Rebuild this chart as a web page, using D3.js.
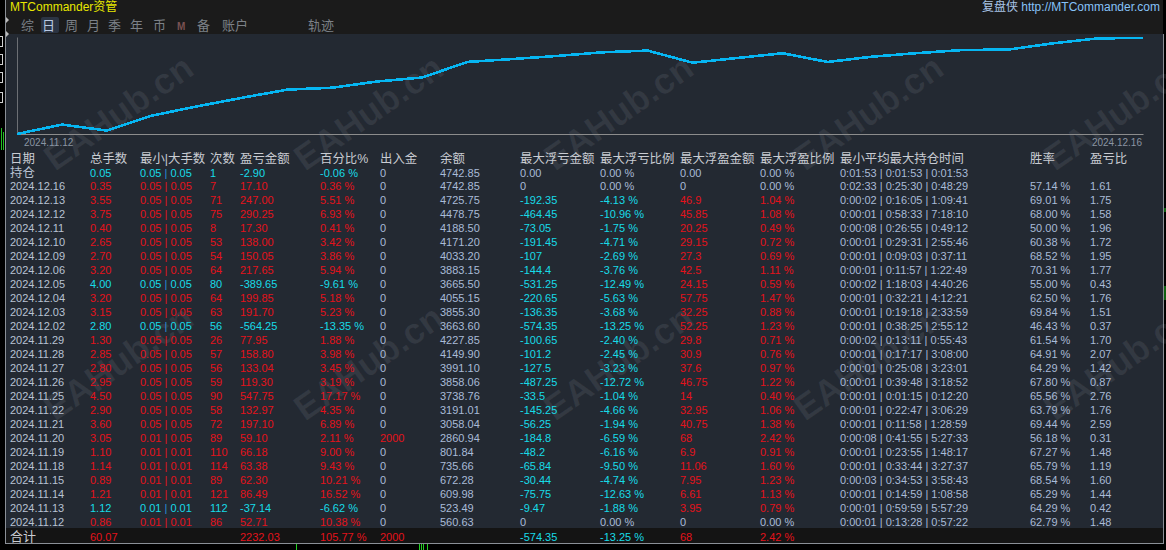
<!DOCTYPE html>
<html>
<head>
<meta charset="utf-8">
<script src="https://cdn.jsdelivr.net/npm/d3@7"></script>
<style>
  html, body { margin: 0; padding: 0; background: #000; }
  svg { display: block; font-family: "Liberation Sans", Arial, "Noto Sans CJK SC", sans-serif; }
</style>
</head>
<body>
<div id="chart"></div>
<script>
// 每日数据（从上到下，倒序）
const dates = ['2024.12.16','2024.12.13','2024.12.12','2024.12.11','2024.12.10','2024.12.09','2024.12.06','2024.12.05','2024.12.04','2024.12.03','2024.12.02','2024.11.29','2024.11.28','2024.11.27','2024.11.26','2024.11.25','2024.11.22','2024.11.21','2024.11.20','2024.11.19','2024.11.18','2024.11.15','2024.11.14','2024.11.13','2024.11.12'];
const totalLots = ['0.35','3.55','3.75','0.40','2.65','2.70','3.20','4.00','3.20','3.15','2.80','1.30','2.85','2.80','2.95','4.50','2.90','3.60','3.05','1.10','1.14','0.89','1.21','1.12','0.86'];
const minLots = ['0.05','0.05','0.05','0.05','0.05','0.05','0.05','0.05','0.05','0.05','0.05','0.05','0.05','0.05','0.05','0.05','0.05','0.05','0.01','0.01','0.01','0.01','0.01','0.01','0.01'];
const maxLots = ['0.05','0.05','0.05','0.05','0.05','0.05','0.05','0.05','0.05','0.05','0.05','0.05','0.05','0.05','0.05','0.05','0.05','0.05','0.05','0.01','0.01','0.01','0.01','0.01','0.01'];
const tradeCounts = ['7','71','75','8','53','54','64','80','64','63','56','26','57','56','59','90','58','72','89','110','114','89','121','112','86'];
const profits = ['17.10','247.00','290.25','17.30','138.00','150.05','217.65','-389.65','199.85','191.70','-564.25','77.95','158.80','133.04','119.30','547.75','132.97','197.10','59.10','66.18','63.38','62.30','86.49','-37.14','52.71'];
const profitPct = ['0.36','5.51','6.93','0.41','3.42','3.86','5.94','-9.61','5.18','5.23','-13.35','1.88','3.98','3.45','3.19','17.17','4.35','6.89','2.11','9.00','9.43','10.21','16.52','-6.62','10.38'];
const cashFlow = ['0','0','0','0','0','0','0','0','0','0','0','0','0','0','0','0','0','0','2000','0','0','0','0','0','0'];
const balances = ['4742.85','4725.75','4478.75','4188.50','4171.20','4033.20','3883.15','3665.50','4055.15','3855.30','3663.60','4227.85','4149.90','3991.10','3858.06','3738.76','3191.01','3058.04','2860.94','801.84','735.66','672.28','609.98','523.49','560.63'];
const maxFloatLoss = ['0','-192.35','-464.45','-73.05','-191.45','-107','-144.4','-531.25','-220.65','-136.35','-574.35','-100.65','-101.2','-127.5','-487.25','-33.5','-145.25','-56.25','-184.8','-48.2','-65.84','-30.44','-75.75','-9.47','0'];
const maxFloatLossPct = ['0.00','-4.13','-10.96','-1.75','-4.71','-2.69','-3.76','-12.49','-5.63','-3.68','-13.25','-2.40','-2.45','-3.23','-12.72','-1.04','-4.66','-1.94','-6.59','-6.16','-9.50','-4.74','-12.63','-1.88','0.00'];
const maxFloatProfit = ['0','46.9','45.85','20.25','29.15','27.3','42.5','24.15','57.75','32.25','52.25','29.8','30.9','37.6','46.75','14','32.95','40.75','68','6.9','11.06','7.95','6.61','3.95','0'];
const maxFloatProfitPct = ['0.00','1.04','1.08','0.49','0.72','0.69','1.11','0.59','1.47','0.88','1.23','0.71','0.76','0.97','1.22','0.40','1.06','1.38','2.42','0.91','1.60','1.23','1.13','0.79','0.00'];
const holdMin = ['0:02:33','0:00:02','0:00:01','0:00:08','0:00:01','0:00:01','0:00:01','0:00:02','0:00:01','0:00:01','0:00:01','0:00:02','0:00:01','0:00:01','0:00:01','0:00:01','0:00:01','0:00:01','0:00:08','0:00:01','0:00:01','0:00:03','0:00:01','0:00:01','0:00:01'];
const holdAvg = ['0:25:30','0:16:05','0:58:33','0:26:55','0:29:31','0:09:03','0:11:57','1:18:03','0:32:21','0:19:18','0:38:25','0:13:11','0:17:17','0:25:08','0:39:48','0:01:15','0:22:47','0:11:58','0:41:55','0:23:55','0:33:44','0:34:53','0:14:59','0:59:59','0:13:28'];
const holdMax = ['0:48:29','1:09:41','7:18:10','0:49:12','2:55:46','0:37:11','1:22:49','4:40:26','4:12:21','2:33:59','2:55:12','0:55:43','3:08:00','3:23:01','3:18:52','0:12:20','3:06:29','1:28:59','5:27:33','1:48:17','3:27:37','3:58:43','1:08:58','5:57:29','0:57:22'];
const winRates = ['57.14','69.01','68.00','50.00','60.38','68.52','70.31','55.00','62.50','69.84','46.43','61.54','64.91','64.29','67.80','65.56','63.79','69.44','56.18','67.27','65.79','68.54','65.29','64.29','62.79'];
const profitFactors = ['1.61','1.75','1.58','1.96','1.72','1.95','1.77','0.43','1.76','1.51','0.37','1.70','2.07','1.42','0.87','2.76','1.76','2.59','0.31','1.48','1.19','1.60','1.44','0.42','1.48'];

// 持仓行 / 合计行
const holding = { lots: '0.05', minLot: '0.05', maxLot: '0.05', count: '1', profit: '-2.90', pct: '-0.06', cash: '0', balance: '4742.85',
  fl: '0.00', flPct: '0.00', fp: '0.00', fpPct: '0.00', hold: ['0:01:53','0:01:53','0:01:53'] };
const totals = { lots: '60.07', profit: '2232.03', pct: '105.77', cash: '2000', fl: '-574.35', flPct: '-13.25', fp: '68', fpPct: '2.42' };

// 曲线（累计收益%，按时间顺序，起点为0）
const curveDates = ['2024.11.12', '2024.12.16'];
const curveValues = [0, 10.38, 3.76, 20.28, 30.49, 39.92, 48.92, 51.03, 57.92, 62.27, 79.44, 82.63, 86.08, 90.06, 91.94, 78.59, 83.82, 89.00, 79.39, 85.33, 89.19, 92.61, 93.02, 99.95, 105.46, 105.82];

const headers = ['日期','总手数','最小|大手数','次数','盈亏金额','百分比%','出入金','余额','最大浮亏金额','最大浮亏比例','最大浮盈金额','最大浮盈比例','最小平均最大持仓时间','胜率','盈亏比'];
const tabs = ['综','日','周','月','季','年','币','M','备','账户','轨迹'];

// 颜色
const RED = '#e3121b', CYAN = '#17dbe8', LIGHT = '#a9bbd7', DATE = '#b8c2d2', HEAD = '#c9ccd2';

const W = 1166, H = 550;
const svg = d3.select('#chart').append('svg').attr('width', W).attr('height', H);

// 背景
svg.append('rect').attr('width', W).attr('height', H).attr('fill', '#000');
svg.append('rect').attr('x', 5).attr('y', 0).attr('width', 1158).attr('height', 34).attr('fill', '#1b1b1b');
svg.append('rect').attr('x', 6).attr('y', 34).attr('width', 1157).attr('height', 494).attr('fill', '#232932');
svg.append('rect').attr('x', 6).attr('y', 528).attr('width', 1157).attr('height', 15).attr('fill', '#141414');
svg.append('line').attr('x1', 5.5).attr('x2', 5.5).attr('y1', 0).attr('y2', 544).attr('stroke', '#8a8f96');
svg.append('line').attr('x1', 1163.5).attr('x2', 1163.5).attr('y1', 34).attr('y2', 544).attr('stroke', '#8a8f96');
svg.append('line').attr('x1', 5).attr('x2', 1164).attr('y1', 543.5).attr('y2', 543.5).attr('stroke', '#8a8f96');

// 左侧终端碎片
[[36, 10], [54, 10], [72, 10], [92, 10]].forEach(([y, h]) => {
  svg.append('rect').attr('x', -1.5).attr('y', y + 0.5).attr('width', 4).attr('height', h).attr('fill', 'none').attr('stroke', '#d0d0d0');
});
svg.append('path').attr('d', 'M6,17 L9,20 L6,23 Z').attr('fill', '#bbb');
svg.append('path').attr('d', 'M6,31 L9,34 L6,37 Z').attr('fill', '#bbb');
svg.append('line').attr('x1', 1.5).attr('x2', 1.5).attr('y1', 128).attr('y2', 150).attr('stroke', '#22c022');
svg.append('line').attr('x1', 3.5).attr('x2', 3.5).attr('y1', 132).attr('y2', 150).attr('stroke', '#22c022');
svg.append('line').attr('x1', 1165).attr('x2', 1165).attr('y1', 208).attr('y2', 212).attr('stroke', '#22c022');
svg.append('line').attr('x1', 1165).attr('x2', 1165).attr('y1', 286).attr('y2', 300).attr('stroke', '#22c022');
[296, 419, 421, 423, 427].forEach(x => {
  svg.append('line').attr('x1', x + 0.5).attr('x2', x + 0.5).attr('y1', 544).attr('y2', 550).attr('stroke', '#22d022');
});

// 水印
const wm = svg.append('g').attr('pointer-events', 'none');
[172, 422].forEach(y => {
  [55, 305, 555, 805, 1055].forEach(x => {
    wm.append('text').attr('transform', `translate(${x},${y}) rotate(-35)`)
      .attr('font-size', 36).attr('font-weight', 700)
      .attr('fill', 'rgba(210,215,225,0.09)').text('EAHub.cn');
  });
});

// 标题栏
svg.append('text').attr('x', 10).attr('y', 10.5).attr('font-size', 12).attr('fill', '#e8e800').text('MTCommander资管');
svg.append('text').attr('x', 1160).attr('y', 10.5).attr('font-size', 12).attr('text-anchor', 'end')
  .call(t => {
    t.append('tspan').attr('fill', '#a9c4e6').text('复盘侠 ');
    t.append('tspan').attr('fill', '#86c2f8').text('http://MTCommander.com');
  });

// 选项卡
const tabX = d3.scaleOrdinal().domain(tabs).range([21, 41, 65, 87, 108, 130, 153, 177, 197, 222, 308]);
svg.append('rect').attr('x', 41).attr('y', 17).attr('width', 18).attr('height', 16).attr('rx', 2).attr('fill', '#2b3443');
tabs.forEach(t => {
  const isM = t === 'M';
  svg.append('text').attr('x', tabX(t) + (t === '日' ? 1 : 0)).attr('y', 30)
    .attr('font-size', isM ? 10 : 13).attr('font-weight', isM ? 700 : 400)
    .attr('fill', t === '日' ? '#b9c9e2' : (isM ? '#7a5252' : '#7c8188'))
    .text(t);
});

// 曲线
const x = d3.scaleLinear().domain([0, curveValues.length - 1]).range([17, 1143]);
const y = d3.scaleLinear().domain([0, d3.max(curveValues)]).range([134, 38]);
const plot = svg.append('g');
plot.append('g').attr('transform', 'translate(0,134)')
  .call(d3.axisBottom(x).ticks(0).tickSize(0).tickFormat(''))
  .call(g => g.select('.domain').attr('stroke', '#8c8c8c'));
plot.append('g').attr('transform', 'translate(17,0)')
  .call(d3.axisLeft(y.copy().range([134, 37])).ticks(0).tickSize(0).tickFormat(''))
  .call(g => g.select('.domain').attr('stroke', '#6c6f74'));
plot.append('path').datum(curveValues)
  .attr('d', d3.line().x((d, i) => x(i)).y(d => y(d)))
  .attr('fill', 'none').attr('stroke', '#06b6f2').attr('stroke-width', 2.6)
  .attr('shape-rendering', 'crispEdges');
plot.append('text').attr('x', 24).attr('y', 146).attr('font-size', 10).attr('fill', '#8a94a3').text(curveDates[0]);
plot.append('text').attr('x', 1142).attr('y', 146).attr('font-size', 10).attr('text-anchor', 'end').attr('fill', '#8a94a3').text(curveDates[1]);

// 表格
const colKeys = ['date','lots','minmax','count','profit','pct','cash','balance','fl','flPct','fp','fpPct','hold','win','pf'];
const colX = d3.scaleOrdinal().domain(colKeys).range([10, 90, 140, 210, 240, 320, 380, 440, 520, 600, 680, 760, 840, 1030, 1090]);
const rowY = d3.scaleLinear().domain([0, dates.length]).range([176.5, 176.5 + 13.96 * dates.length]);
const table = svg.append('g').attr('font-size', 11);

const cell = (key, r, txt, color) => table.append('text').attr('x', colX(key)).attr('y', rowY(r)).attr('fill', color).text(txt);

// 表头
headers.forEach((h, i) => {
  table.append('text').attr('x', colX(colKeys[i])).attr('y', rowY(-1)).attr('font-size', 12.4)
    .attr('fill', HEAD).text(h);
});

function lotCell(r, a, b, color) {
  const t = table.append('text').attr('x', colX('minmax')).attr('y', rowY(r)).attr('fill', color);
  t.append('tspan').text(a + ' ');
  t.append('tspan').attr('fill', color === CYAN ? '#2b8fd8' : color).text('|');
  t.append('tspan').text(' ' + b);
}
function holdCell(r, parts) {
  table.append('text').attr('x', colX('hold')).attr('y', rowY(r)).attr('fill', LIGHT).text(parts.join(' | '));
}
const zeroish = v => +v === 0;

// 持仓行
cell('date', 0, '持仓', DATE).attr('font-size', 12.4);
cell('lots', 0, holding.lots, CYAN);
lotCell(0, holding.minLot, holding.maxLot, CYAN);
cell('count', 0, holding.count, CYAN);
cell('profit', 0, holding.profit, CYAN);
cell('pct', 0, holding.pct + ' %', CYAN);
cell('cash', 0, holding.cash, LIGHT);
cell('balance', 0, holding.balance, LIGHT);
cell('fl', 0, holding.fl, LIGHT);
cell('flPct', 0, holding.flPct + ' %', LIGHT);
cell('fp', 0, holding.fp, LIGHT);
cell('fpPct', 0, holding.fpPct + ' %', LIGHT);
holdCell(0, holding.hold);

// 每日行
dates.forEach((d, i) => {
  const r = i + 1;
  const c = +profits[i] < 0 ? CYAN : RED;
  cell('date', r, d, DATE);
  cell('lots', r, totalLots[i], c);
  lotCell(r, minLots[i], maxLots[i], c);
  cell('count', r, tradeCounts[i], c);
  cell('profit', r, profits[i], c);
  cell('pct', r, profitPct[i] + ' %', c);
  cell('cash', r, cashFlow[i], zeroish(cashFlow[i]) ? LIGHT : RED);
  cell('balance', r, balances[i], LIGHT);
  cell('fl', r, maxFloatLoss[i], zeroish(maxFloatLoss[i]) ? LIGHT : CYAN);
  cell('flPct', r, maxFloatLossPct[i] + ' %', zeroish(maxFloatLossPct[i]) ? LIGHT : CYAN);
  cell('fp', r, maxFloatProfit[i], zeroish(maxFloatProfit[i]) ? LIGHT : RED);
  cell('fpPct', r, maxFloatProfitPct[i] + ' %', zeroish(maxFloatProfitPct[i]) ? LIGHT : RED);
  holdCell(r, [holdMin[i], holdAvg[i], holdMax[i]]);
  cell('win', r, winRates[i] + ' %', LIGHT);
  cell('pf', r, profitFactors[i], LIGHT);
});

// 合计行
const tr = dates.length + 1;
table.append('text').attr('x', colX('date')).attr('y', rowY(tr) + 1.5).attr('font-size', 13).attr('fill', '#c9ccd2').text('合计');
cell('lots', tr, totals.lots, RED).attr('y', rowY(tr) + 1.5);
cell('profit', tr, totals.profit, RED).attr('y', rowY(tr) + 1.5);
cell('pct', tr, totals.pct + ' %', RED).attr('y', rowY(tr) + 1.5);
cell('cash', tr, totals.cash, RED).attr('y', rowY(tr) + 1.5);
cell('fl', tr, totals.fl, CYAN).attr('y', rowY(tr) + 1.5);
cell('flPct', tr, totals.flPct + ' %', CYAN).attr('y', rowY(tr) + 1.5);
cell('fp', tr, totals.fp, RED).attr('y', rowY(tr) + 1.5);
cell('fpPct', tr, totals.fpPct + ' %', RED).attr('y', rowY(tr) + 1.5);
</script>
</body>
</html>
